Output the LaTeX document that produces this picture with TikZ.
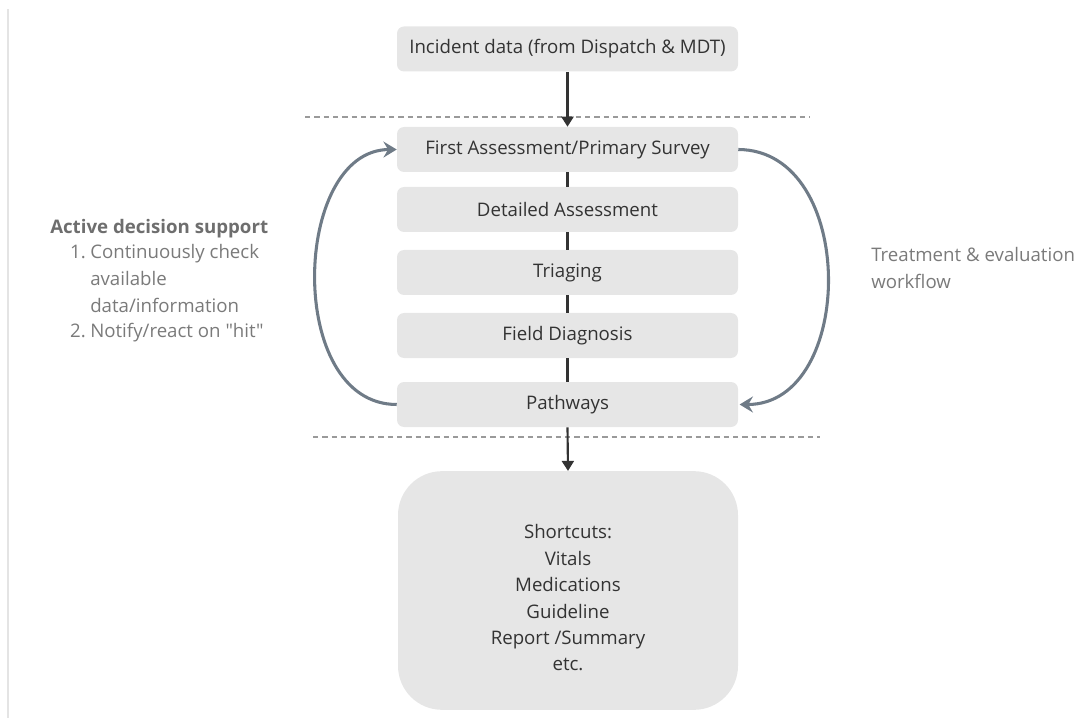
\documentclass[tikz,border=0pt]{standalone}
\usepackage{fontspec}
\setmainfont{Open Sans}[Ligatures=TeXOff]
\usetikzlibrary{arrows.meta}
\definecolor{boxfill}{HTML}{E6E6E6}
\definecolor{ink}{HTML}{333333}
\definecolor{note}{HTML}{7A7A7A}
\definecolor{notehead}{HTML}{6E6E6E}
\definecolor{loop}{HTML}{6F7B87}
\definecolor{rule}{HTML}{9A9A9A}
\definecolor{edge}{HTML}{E4E4E4}
\begin{document}
\begin{tikzpicture}[x=0.75pt,y=-0.75pt,
  stage/.style={rectangle, rounded corners=5.25pt, fill=boxfill, draw=none,
    minimum width=255.75pt, minimum height=33.75pt, inner sep=0pt,
    text=ink, font=\fontsize{14}{19.8}\selectfont},
  bigbox/.style={rectangle, rounded corners=33pt, fill=boxfill, draw=none,
    minimum width=255pt, minimum height=179pt, inner sep=0pt},
  boxtext/.style={align=center, inner sep=0pt, text=ink, font=\fontsize{14}{19.8}\selectfont},
  flow/.style={draw=ink, line width=1.6pt},
  flowarrow/.style={flow, -{Triangle[length=7.5pt,width=9pt]}},
  loopline/.style={draw=loop, line width=2.3pt, -{Stealth[length=10pt,width=12pt,inset=3.5pt]}},
  sep/.style={draw=rule, line width=1.1pt, dash pattern=on 4pt off 3pt},
  notetext/.style={anchor=base west, text=note, inner sep=0pt, font=\fontsize{14}{19.5}\selectfont},
]
\useasboundingbox (0,0) rectangle (1078,720);

% thin rule at the left edge
\draw[edge, line width=1.5pt] (8,9) -- (8,718);

% stages
\node[stage] (incident) at (567.5,49) {Incident data (from Dispatch \& MDT)};
\node[stage] (first)    at (567.5,149.5) {First Assessment/Primary Survey};
\node[stage] (detail)   at (567.5,209.5) {Detailed Assessment};
\node[stage] (triage)   at (567.5,272.5) {Triaging};
\node[stage] (field)    at (567.5,335.5) {Field Diagnosis};
\node[stage] (path)     at (567.5,404.5) {Pathways};
\node[bigbox] (short)   at (568,590.5) {};
\node[boxtext] (shorttext) at (568,598) {Shortcuts:\\Vitals\\Medications\\Guideline\\Report /Summary\\etc.};

% separators
\coordinate (s1a) at (305,117); \coordinate (s1b) at (810,117);
\coordinate (s2a) at (313,437); \coordinate (s2b) at (820,437);
\draw[sep] (s1a) -- (s1b);
\draw[sep] (s2a) -- (s2b);

% main flow
\draw[flowarrow] (incident.south) -- (first.north);
\draw[flow] (first.south) -- (detail.north);
\draw[flow] (detail.south) -- (triage.north);
\draw[flow] (triage.south) -- (field.north);
\draw[flow] (field.south) -- (path.north);
\draw[flowarrow] (path.south) -- (short.north);

% feedback loops
\draw[loopline] (path.west) .. controls (285,404.5) and (292,150) .. (first.west);
\draw[loopline] (first.east) .. controls (858,150) and (856,404.5) .. ([xshift=1pt]path.east);

% decision support notes (placed on their baselines)
\node[notetext, text=notehead, font=\fontsize{14}{19.5}\selectfont\bfseries] (ads) at (50,234) {Active decision support};
\node[notetext] (t1a) at (90,259) {Continuously check};
\node[notetext] (t1b) at (90,286) {available};
\node[notetext] (t1c) at (90,312) {data/information};
\node[notetext] (t2) at (90,338) {Notify/react on "hit"};
\node[notetext, anchor=base east] (n1) at ([xshift=-3]t1a.base west) {1.};
\node[notetext, anchor=base east] (n2) at ([xshift=-3]t2.base west) {2.};

% workflow note
\node[notetext] (tw1) at (871,262) {Treatment \& evaluation};
\node[notetext] (tw2) at (871,289) {workflow};
\end{tikzpicture}
\end{document}
